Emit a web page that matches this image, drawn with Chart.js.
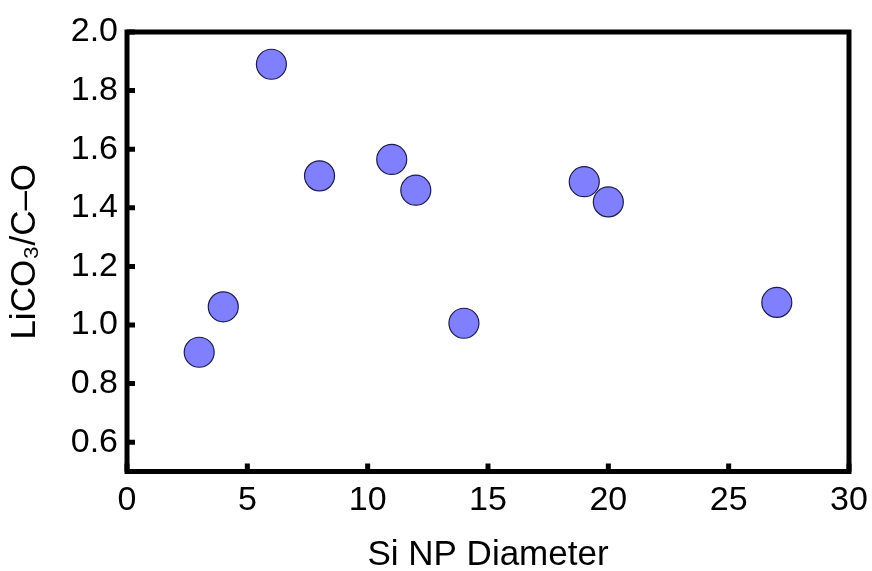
<!DOCTYPE html>
<html>
<head>
<meta charset="utf-8">
<script src="https://cdn.jsdelivr.net/npm/chart.js@4/dist/chart.umd.min.js"></script>
<style>
  html, body { margin: 0; padding: 0; background: #ffffff; }
  #wrap { width: 872px; height: 571px; }
</style>
</head>
<body>
<div id="wrap"><canvas id="c" width="872" height="571"></canvas></div>
<script>
// Si nanoparticle diameter vs. LiCO3 / C–O peak ratio
const diameters = [3, 4, 6, 8, 11, 12, 14, 19, 20, 27];
const ratios = [0.907, 1.062, 1.890, 1.509, 1.565, 1.460, 1.006, 1.489, 1.420, 1.077];
const xTickValues = [0, 5, 10, 15, 20, 25, 30];
const yTickValues = [0.6, 0.8, 1.0, 1.2, 1.4, 1.6, 1.8, 2.0];

const FONT = "'Liberation Sans', Arial, Helvetica, sans-serif";

// Heavy box frame plus short inward tick marks on the left and bottom axes
const framePlugin = {
  id: 'frame',
  beforeDatasetsDraw(chart) {
    const { ctx, chartArea: a, scales } = chart;
    ctx.save();
    ctx.strokeStyle = '#000';
    ctx.lineWidth = 5;
    ctx.lineCap = 'butt';
    ctx.beginPath();
    scales.x.ticks.forEach(t => {
      const px = scales.x.getPixelForValue(t.value);
      ctx.moveTo(px, a.bottom);
      ctx.lineTo(px, a.bottom - 8);
    });
    scales.y.ticks.forEach(t => {
      const py = scales.y.getPixelForValue(t.value);
      ctx.moveTo(a.left, py);
      ctx.lineTo(a.left + 8, py);
    });
    ctx.stroke();
    ctx.lineJoin = 'miter';
    ctx.strokeRect(a.left, a.top, a.right - a.left, a.bottom - a.top);
    ctx.restore();
  }
};

new Chart(document.getElementById('c'), {
  type: 'scatter',
  data: {
    datasets: [{
      data: diameters.map((d, i) => ({ x: d, y: ratios[i] })),
      backgroundColor: '#8080ff',
      borderColor: '#1c1c50',
      borderWidth: 1.2,
      pointRadius: 15,
      pointHoverRadius: 15
    }]
  },
  options: {
    responsive: false,
    animation: false,
    devicePixelRatio: 1,
    layout: { padding: { top: 32, right: 23, bottom: 0, left: 0 } },
    plugins: {
      legend: { display: false },
      tooltip: { enabled: false }
    },
    scales: {
      x: {
        type: 'linear',
        min: 0,
        max: 30,
        afterBuildTicks: s => { s.ticks = xTickValues.map(v => ({ value: v })); },
        afterFit: s => { s.height = 99.5; s.paddingLeft = 0; s.paddingRight = 0; },
        grid: { display: false, drawTicks: false },
        border: { display: false },
        ticks: {
          font: { family: FONT, size: 34 },
          color: '#000',
          padding: 9,
          maxRotation: 0,
          callback: v => String(v)
        },
        title: {
          display: true,
          text: 'Si NP Diameter',
          color: '#000',
          font: { family: FONT, size: 35, lineHeight: 1 },
          padding: { top: 0, bottom: -2 }
        }
      },
      y: {
        type: 'linear',
        min: 0.5,
        max: 2.0,
        afterBuildTicks: s => { s.ticks = yTickValues.map(v => ({ value: v })); },
        afterFit: s => { s.width = 127; s.paddingTop = 0; s.paddingBottom = 0; },
        grid: { display: false, drawTicks: false },
        border: { display: false },
        ticks: {
          font: { family: FONT, size: 34 },
          color: '#000',
          padding: 9,
          callback: v => Number(v).toFixed(1)
        },
        title: {
          display: true,
          text: 'LiCO₃/C–O',
          color: '#000',
          font: { family: FONT, size: 35, lineHeight: 1 },
          padding: { top: 8, bottom: 0 }
        }
      }
    }
  },
  plugins: [framePlugin]
});
</script>
</body>
</html>
